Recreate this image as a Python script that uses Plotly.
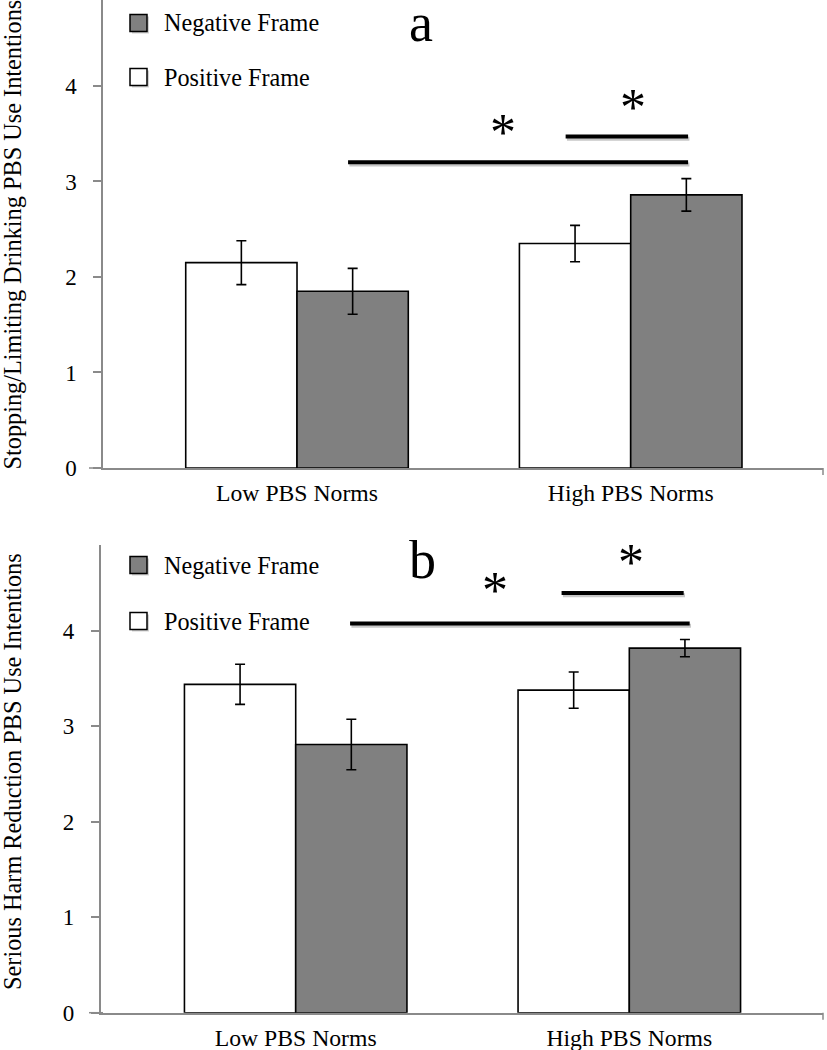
import plotly.graph_objects as go

# ---------------- data ----------------
categories = ["Low PBS Norms", "High PBS Norms"]
series_names = ["Positive Frame", "Negative Frame"]

a_positive = [2.15, 2.35]
a_positive_se = [0.23, 0.19]
a_negative = [1.85, 2.86]
a_negative_se = [0.24, 0.17]

b_positive = [3.44, 3.38]
b_positive_se = [0.21, 0.19]
b_negative = [2.81, 3.82]
b_negative_se = [0.265, 0.09]

y_titles = ["Stopping/Limiting Drinking PBS Use Intentions",
            "Serious Harm Reduction PBS Use Intentions"]
panel_letters = ["a", "b"]
y_ticks = [0, 1, 2, 3, 4]

# ---------------- layout helpers ----------------
W, H = 827, 1050          # reference frame (positions below are measured in it)
FIG_H = 1063              # page height that the capture maps onto 1050 px
FONT = "Liberation Serif, Times New Roman, Times, serif"
GREY = "#808080"
AXIS = "#8a8a8a"


def px(x):
    return x / W


def py(y):
    return 1 - y / H


fig = go.Figure()

colors = ["white", GREY]
panels = [
    (a_positive, a_positive_se, a_negative, a_negative_se, "x", "y"),
    (b_positive, b_positive_se, b_negative, b_negative_se, "x2", "y2"),
]
for vals_p, se_p, vals_n, se_n, xa, ya in panels:
    for name, vals, se, col in [(series_names[0], vals_p, se_p, colors[0]),
                                (series_names[1], vals_n, se_n, colors[1])]:
        fig.add_trace(go.Bar(
            x=categories, y=vals, name=name, xaxis=xa, yaxis=ya,
            marker=dict(color=col, line=dict(color="black", width=1.6)),
            error_y=dict(type="data", array=se, visible=True,
                         color="black", thickness=1.6, width=5),
            showlegend=False,
        ))

axis_common_y = dict(range=[0, 4.9], tickvals=y_ticks, showgrid=False, zeroline=False,
                     showline=True, linecolor=AXIS, linewidth=1.5,
                     ticks="outside", ticklen=8, tickcolor=AXIS, tickwidth=1.5,
                     tickfont=dict(family=FONT, size=23, color="black"),
                     ticklabelstandoff=12)
axis_common_x = dict(type="category", showgrid=False, zeroline=False,
                     showline=True, linecolor=AXIS, linewidth=1.5, ticks="",
                     tickfont=dict(family=FONT, size=23.7, color="black"),
                     ticklabelstandoff=3)

fig.update_layout(
    width=W, height=FIG_H, margin=dict(l=0, r=0, t=0, b=0),
    paper_bgcolor="white", plot_bgcolor="white",
    barmode="group", bargap=0.333, bargroupgap=0,
    xaxis=dict(domain=[px(103), px(823)], range=[-0.5814, 1.5763], anchor="y",
               **axis_common_x),
    yaxis=dict(domain=[py(468), py(0)], anchor="x", **axis_common_y),
    xaxis2=dict(domain=[px(100.7), px(823)], range=[-0.5845, 1.5806], anchor="y2",
                **axis_common_x),
    yaxis2=dict(domain=[py(1012.7), py(545)], anchor="x2", **axis_common_y),
    showlegend=False,
)

shapes = []
annotations = []

# significance brackets (data coords) : (x0, x1, y)
brackets = [
    ("x", "y", [(0.153, 1.172, 3.20), (0.805, 1.172, 3.47)],
     [(0.616, 3.63), (1.007, 3.89)], 95.5),
    ("x2", "y2", [(0.163, 1.181, 4.077), (0.797, 1.163, 4.396)],
     [(0.597, 4.54), (1.006, 4.83)], 95.4),
]
for xr, yr, lines, stars, unit in brackets:
    for x0, x1, yv in lines:
        sh = 2.2 / unit
        shapes.append(dict(type="line", xref=xr, yref=yr, x0=x0 + 0.004, x1=x1 + 0.004,
                           y0=yv - sh, y1=yv - sh,
                           line=dict(color="rgba(0,0,0,0.22)", width=4)))
        shapes.append(dict(type="line", xref=xr, yref=yr, x0=x0, x1=x1, y0=yv, y1=yv,
                           line=dict(color="black", width=4)))
    for sx, sy in stars:
        annotations.append(dict(x=sx, y=sy, xref=xr, yref=yr, text="*", showarrow=False,
                                xanchor="center", yanchor="middle", yshift=-11,
                                font=dict(family=FONT, size=52, color="black")))

# manual legends
legend_rows = [
    [(23, series_names[1], GREY), (77, series_names[0], "white")],
    [(565, series_names[1], GREY), (621, series_names[0], "white")],
]
for row in legend_rows:
    for yc, label, col in row:
        x0, x1 = 130, 147
        shapes.append(dict(type="rect", xref="paper", yref="paper",
                           x0=px(x0 + 2), x1=px(x1 + 2), y0=py(yc + 8.5 + 2), y1=py(yc - 8.5 + 2),
                           fillcolor="rgba(0,0,0,0.18)", line=dict(width=0)))
        shapes.append(dict(type="rect", xref="paper", yref="paper",
                           x0=px(x0), x1=px(x1), y0=py(yc + 8.5), y1=py(yc - 8.5),
                           fillcolor=col, line=dict(color="black", width=1.5)))
        annotations.append(dict(x=px(162), y=py(yc), xref="paper", yref="paper",
                                text=label, showarrow=False, xanchor="left", yanchor="middle",
                                font=dict(family=FONT, size=24.2, color="black")))

# panel letters
for (xc, yc), letter in zip([(421, 23), (422, 560)], panel_letters):
    annotations.append(dict(x=px(xc), y=py(yc), xref="paper", yref="paper", text=letter,
                            showarrow=False, xanchor="center", yanchor="middle",
                            height=40, valign="middle",
                            font=dict(family=FONT, size=54, color="black")))

# y titles
for (yc), title in zip([234.5, 772], y_titles):
    annotations.append(dict(x=px(12), y=py(yc), xref="paper", yref="paper", text=title,
                            textangle=-90, showarrow=False, xanchor="center", yanchor="middle",
                            font=dict(family=FONT, size=24.3, color="black")))

# end ticks on category axes
for ybase in [468, 1012.7]:
    shapes.append(dict(type="line", xref="paper", yref="paper", x0=px(823), x1=px(823),
                       y0=py(ybase), y1=py(ybase + 7), line=dict(color=AXIS, width=1.5)))
    shapes.append(dict(type="line", xref="paper", yref="paper", x0=px(89), x1=px(103),
                       y0=py(ybase), y1=py(ybase), line=dict(color=AXIS, width=1.5)))

fig.update_layout(shapes=shapes, annotations=annotations)

post = """
var de = document.documentElement, bd = document.body;
de.style.margin='0'; de.style.padding='0';
bd.style.margin='0'; bd.style.padding='0';
"""
fig.write_html("out.html", config={"displayModeBar": False}, post_script=post)
